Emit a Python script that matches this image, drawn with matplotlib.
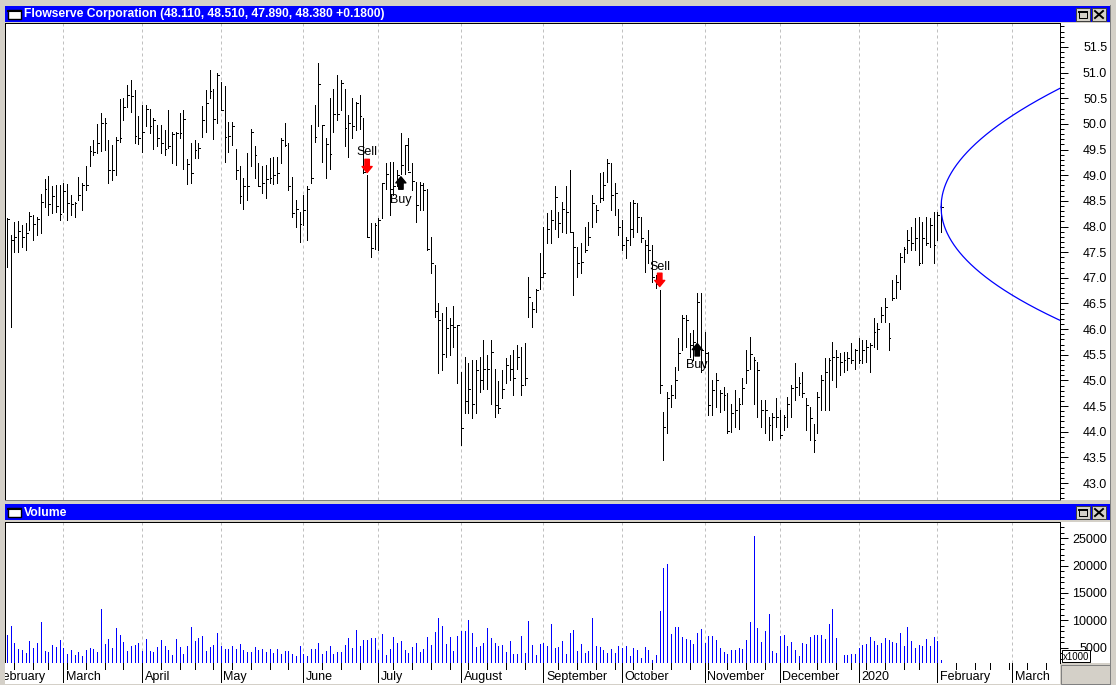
import matplotlib
matplotlib.use('Agg')
import matplotlib.pyplot as plt
import numpy as np
import pandas as pd
from matplotlib.patches import Rectangle
from matplotlib.lines import Line2D
from matplotlib.ticker import FixedLocator, FormatStrFormatter

plt.rcParams['font.family'] = ['Liberation Sans', 'DejaVu Sans']

title = 'Flowserve Corporation (48.110, 48.510, 47.890, 48.380 +0.1800)'

# daily bars, first bar = 7 Feb 2019, last bar = 4 Feb 2020
high = [
    48.16, 47.83, 48.08, 48.10, 48.03, 48.06, 48.29, 48.22, 48.19, 48.63,
    48.93, 48.98, 48.78, 48.81, 48.81, 48.84, 48.83, 48.61, 48.48, 48.97,
    48.84, 49.17, 49.57, 49.69, 50.00, 50.22, 50.11, 49.69, 49.59, 49.74,
    50.48, 50.50, 50.76, 50.86, 50.66, 50.15, 50.37, 50.36, 50.30, 50.11,
    49.98, 49.98, 49.88, 50.27, 49.85, 49.85, 50.22, 50.27, 49.32, 49.62,
    49.69, 49.62, 50.34, 50.66, 51.05, 50.69, 50.99, 50.82, 50.73, 50.04,
    50.04, 49.52, 49.17, 48.94, 49.43, 49.91, 49.57, 49.23, 49.17, 49.20,
    49.33, 49.36, 49.36, 49.72, 50.01, 49.62, 48.97, 48.52, 48.29, 48.61,
    48.78, 49.98, 50.37, 51.18, 49.98, 49.72, 50.50, 50.69, 50.95, 50.86,
    50.69, 50.17, 50.50, 50.43, 50.56, 50.11, 49.00, 48.06, 48.06, 48.16,
    48.84, 49.23, 49.26, 49.26, 49.10, 49.82, 49.59, 49.72, 49.23, 48.87,
    48.87, 48.84, 48.74, 47.80, 47.25, 46.50, 46.31, 46.44, 46.21, 46.46,
    46.08, 45.17, 45.46, 45.33, 45.40, 45.40, 45.46, 45.79, 45.49, 45.79,
    45.23, 44.98, 45.20, 45.43, 45.49, 45.59, 45.69, 45.66, 45.72, 47.02,
    46.53, 46.79, 47.48, 47.99, 48.26, 48.32, 48.78, 48.29, 48.48, 48.78,
    49.10, 47.90, 47.61, 47.67, 48.00, 48.09, 48.61, 48.42, 49.04, 49.07,
    49.31, 49.23, 48.84, 48.35, 48.13, 47.80, 48.48, 48.52, 48.45, 48.19,
    47.74, 47.93, 47.64, 47.05, 46.76, 44.39, 44.78, 44.91, 45.27, 45.82,
    46.27, 46.27, 45.92, 45.98, 46.70, 46.70, 45.95, 45.56, 45.01, 45.14,
    44.81, 44.88, 44.75, 44.55, 44.81, 44.65, 45.04, 45.59, 45.85, 45.46,
    45.36, 44.62, 44.62, 44.29, 44.36, 44.65, 44.42, 44.32, 44.68, 44.91,
    45.33, 45.07, 45.17, 44.65, 44.49, 44.16, 44.78, 45.10, 45.43, 45.43,
    45.75, 45.60, 45.53, 45.56, 45.56, 45.72, 45.62, 45.82, 45.79, 45.79,
    45.72, 46.21, 46.11, 46.44, 46.60, 46.11, 46.96, 47.05, 47.48, 47.61,
    47.93, 47.99, 48.16, 48.19, 48.09, 48.19, 48.16, 48.29, 48.29, 48.51,
]
low = [
    47.22, 46.05, 47.51, 47.50, 47.60, 47.55, 47.93, 47.74, 47.83, 47.87,
    48.39, 48.22, 48.26, 48.29, 48.13, 48.29, 48.13, 48.22, 48.19, 48.52,
    48.32, 48.71, 49.17, 49.39, 49.44, 49.48, 49.49, 48.85, 48.91, 49.00,
    49.65, 50.08, 50.33, 50.24, 49.62, 49.61, 49.46, 49.95, 49.83, 49.52,
    49.56, 49.43, 49.39, 49.54, 49.23, 49.20, 49.72, 49.13, 48.83, 48.84,
    49.33, 49.33, 49.75, 49.85, 50.50, 49.70, 50.01, 50.27, 49.26, 49.46,
    49.59, 48.92, 48.45, 48.35, 48.52, 49.17, 48.94, 48.78, 48.66, 48.55,
    48.84, 48.83, 48.84, 49.23, 49.56, 48.71, 48.19, 47.99, 47.70, 48.03,
    47.74, 48.84, 49.65, 49.95, 49.26, 48.94, 49.13, 49.85, 50.08, 50.27,
    49.56, 49.36, 49.72, 49.88, 49.91, 49.04, 47.80, 47.41, 47.57, 47.54,
    48.16, 48.74, 48.22, 48.61, 48.78, 49.03, 49.03, 49.10, 48.71, 48.09,
    48.32, 48.32, 47.54, 47.09, 46.24, 45.14, 45.20, 45.46, 45.49, 45.66,
    44.94, 43.74, 44.36, 44.36, 44.26, 44.36, 44.78, 44.84, 44.84, 44.55,
    44.29, 44.36, 44.65, 44.94, 45.01, 44.71, 45.23, 44.71, 44.91, 46.24,
    46.05, 46.34, 46.79, 47.02, 47.67, 47.67, 47.96, 47.80, 47.90, 47.87,
    47.90, 46.66, 47.02, 47.09, 47.51, 47.64, 47.99, 48.09, 48.48, 48.52,
    48.87, 48.32, 48.22, 47.84, 47.54, 47.38, 47.64, 47.80, 47.90, 47.70,
    47.12, 47.28, 46.92, 46.80, 44.75, 43.45, 43.97, 44.49, 44.65, 45.20,
    45.59, 45.66, 45.46, 45.40, 45.53, 45.17, 45.27, 44.32, 44.32, 44.49,
    44.39, 44.42, 43.97, 44.00, 44.10, 44.05, 44.55, 44.94, 45.23, 44.55,
    44.29, 44.10, 43.97, 43.84, 43.84, 44.10, 43.87, 44.03, 44.10, 44.29,
    44.62, 44.72, 44.68, 44.03, 43.84, 43.61, 43.97, 44.42, 44.42, 44.42,
    45.01, 44.88, 45.10, 45.17, 45.20, 45.33, 45.23, 45.33, 45.33, 45.36,
    45.17, 45.66, 45.62, 46.14, 46.14, 45.59, 46.57, 46.60, 46.79, 47.31,
    47.48, 47.54, 47.54, 47.25, 47.28, 47.64, 47.61, 47.28, 47.74, 47.89,
]
close = [
    48.14, 47.74, 47.80, 47.92, 47.80, 47.87, 48.20, 48.05, 48.14, 48.48,
    48.74, 48.44, 48.60, 48.40, 48.25, 48.70, 48.45, 48.44, 48.45, 48.61,
    48.80, 48.80, 49.48, 49.46, 49.63, 50.01, 50.01, 49.10, 49.11, 49.69,
    49.72, 50.32, 50.56, 50.54, 49.76, 49.72, 49.85, 50.30, 49.95, 50.08,
    49.72, 49.63, 49.52, 49.57, 49.80, 49.83, 49.82, 50.09, 49.22, 49.04,
    49.50, 49.54, 50.08, 50.41, 50.65, 50.09, 50.95, 50.28, 49.75, 49.76,
    49.95, 49.10, 48.60, 48.78, 48.79, 49.85, 49.39, 48.79, 48.84, 48.93,
    48.94, 49.00, 49.05, 49.69, 49.59, 48.78, 48.26, 48.35, 48.05, 48.32,
    48.74, 48.94, 49.75, 50.77, 49.97, 49.60, 49.41, 50.19, 50.19, 50.79,
    49.93, 50.01, 49.95, 50.40, 50.16, 49.07, 47.80, 47.59, 48.03, 48.13,
    48.84, 49.02, 48.74, 48.78, 49.00, 49.20, 49.59, 49.07, 48.89, 48.42,
    48.81, 48.71, 47.57, 47.28, 46.35, 46.18, 45.51, 46.03, 46.08, 46.05,
    46.08, 44.07, 44.59, 44.84, 44.55, 45.20, 45.01, 45.23, 45.23, 45.56,
    44.52, 44.46, 44.84, 45.30, 45.23, 45.04, 45.46, 44.91, 45.04, 46.63,
    46.40, 46.76, 47.02, 47.09, 47.96, 48.13, 48.58, 48.06, 48.35, 48.29,
    47.90, 47.61, 47.28, 47.31, 47.54, 47.80, 48.45, 48.32, 48.55, 48.81,
    49.23, 48.61, 48.65, 47.99, 47.64, 47.74, 47.96, 48.46, 48.19, 47.77,
    47.64, 47.54, 47.02, 46.88, 44.92, 44.10, 44.65, 44.72, 45.01, 45.53,
    46.21, 46.18, 45.69, 45.75, 46.53, 45.59, 45.53, 44.52, 44.81, 45.01,
    44.75, 44.72, 44.02, 44.36, 44.42, 44.55, 44.85, 45.20, 45.51, 45.40,
    45.20, 44.42, 44.42, 44.13, 44.29, 44.29, 43.93, 44.29, 44.55, 44.85,
    44.88, 44.94, 44.75, 44.52, 44.26, 43.84, 44.68, 45.01, 45.17, 45.40,
    45.46, 45.46, 45.36, 45.40, 45.43, 45.40, 45.59, 45.40, 45.59, 45.66,
    45.69, 45.95, 46.01, 46.27, 46.44, 45.82, 46.60, 46.92, 47.41, 47.57,
    47.74, 47.67, 47.77, 47.28, 47.77, 47.67, 48.03, 47.64, 48.22, 48.38,
]
# volume in thousands of shares (axis shows x1000)
volume = [
    7320, 8970, 5920, 4770, 4580, 4090, 6230, 5010, 5920, 9760,
    4460, 4280, 5500, 5190, 6410, 4890, 3790, 4580, 3670, 4280,
    3550, 4580, 5010, 4770, 4280, 12080, 5680, 6590, 5010, 8600,
    7320, 6110, 4460, 5310, 5500, 5920, 4460, 6590, 4460, 4280,
    5190, 6410, 5310, 4580, 3670, 6590, 5190, 3850, 5310, 8790,
    6290, 6780, 7140, 4460, 5190, 5500, 7690, 5310, 4770, 4770,
    5310, 4770, 5680, 4580, 4280, 4280, 5130, 4580, 4770, 4280,
    4770, 4030, 4770, 3850, 4400, 4400, 3850, 3550, 5310, 3850,
    3490, 4770, 4770, 5920, 3850, 4400, 5310, 3850, 4280, 4280,
    5500, 6780, 5010, 8240, 5310, 6410, 6410, 6780, 6780, 4580,
    7510, 3670, 4770, 6960, 5860, 6230, 4580, 4030, 5130, 5860,
    4220, 4760, 6960, 5490, 7870, 10430, 8970, 5680, 6960, 4400,
    7140, 8050, 8050, 10070, 7690, 5130, 5310, 5860, 8600, 6770,
    5860, 5310, 5490, 4220, 6230, 3850, 3850, 7140, 4030, 9880,
    5490, 3670, 5680, 5860, 5310, 9330, 4950, 5130, 6230, 3850,
    7690, 8240, 4400, 5680, 4030, 4400, 10430, 5310, 5130, 4580,
    4030, 4760, 4030, 5310, 4950, 5310, 3490, 4950, 4580, 3180,
    5130, 4580, 2750, 3670, 11710, 19580, 20300, 7510, 8790, 8790,
    6960, 6590, 6410, 5680, 7690, 8420, 5860, 7140, 7140, 6410,
    4950, 4220, 3850, 4580, 4580, 4950, 4770, 6410, 9700, 25420,
    8600, 6040, 8050, 11160, 4400, 4030, 7140, 7320, 5310, 6040,
    4580, 3490, 5860, 5680, 6960, 7320, 7320, 7320, 6590, 9340,
    12080, 6780, 1500, 3670, 3670, 3850, 3850, 4950, 5500, 5680,
    6960, 6230, 5500, 5860, 6780, 6410, 6040, 5860, 7690, 5310,
    8790, 6230, 4950, 5500, 5310, 6590, 5310, 6960, 6230, 2750,
]

month_names = ['February', 'March', 'April', 'May', 'June', 'July', 'August',
               'September', 'October', 'November', 'December', '2020',
               'February', 'March']
month_start = [-4, 15, 36, 57, 79, 99, 121, 143, 164, 186, 206, 227, 248, 268]
holidays = ['2019-02-18', '2019-04-19', '2019-05-27', '2019-07-04', '2019-09-02',
            '2019-11-28', '2019-12-25', '2020-01-01', '2020-01-20', '2020-02-17']

sell_bars = [96, 174]
sell_tips = [49.05, 46.83]
sell_label = [49.39, 47.15]
buy_bars = [105, 184]
buy_tips = [48.97, 45.72]
buy_label = [48.46, 45.24]

cone_sigma = 0.0083

W, H = 1116, 685
fig = plt.figure(figsize=(W / 100, H / 100), dpi=100, facecolor='#d4d0c8')


def box(x0, y0, x1, y1, **kw):
    r = Rectangle((x0 / W, 1 - y1 / H), (x1 - x0) / W, (y1 - y0) / H,
                  transform=fig.transFigure, **kw)
    fig.add_artist(r)
    return r


def line(x0, y0, x1, y1, **kw):
    fig.add_artist(Line2D([x0 / W, x1 / W], [1 - y0 / H, 1 - y1 / H],
                          transform=fig.transFigure, **kw))


px = 0.72
x_lo, x_hi = -0.53, 280.7
idx = np.arange(len(close))

ax1 = fig.add_axes([5 / W, 1 - 500 / H, 1055 / W, 477 / H])
ax2 = fig.add_axes([5 / W, 1 - 663 / H, 1055 / W, 141 / H])
ax3 = fig.add_axes([5 / W, 1 - 684 / H, 1055 / W, 21 / H])

# white strips behind the right hand scales
box(1060, 23, 1110, 500, fc='white', ec='none', zorder=-1)
box(1060, 522, 1110, 663, fc='white', ec='none', zorder=-1)

# price panel
ax1.vlines(idx, low, high, color='black', lw=px, antialiased=False, zorder=3)
ax1.hlines(close, idx, idx + 0.5, color='black', lw=px, antialiased=False, zorder=3)
for m in month_start:
    ax1.axvline(m, color='#c0c0c0', lw=px, ls=(0, (3, 3)), zorder=1)

t = np.linspace(0, 33, 300)
ax1.plot(idx[-1] + t, close[-1] * np.exp(cone_sigma * np.sqrt(t)), color='#0000ff', lw=0.9, zorder=4)
ax1.plot(idx[-1] + t, close[-1] * np.exp(-cone_sigma * np.sqrt(t)), color='#0000ff', lw=0.9, zorder=4)

for i, tip, ty in zip(sell_bars, sell_tips, sell_label):
    ax1.annotate('', xy=(i, tip), xytext=(0, 9.6), textcoords='offset points',
                 arrowprops=dict(arrowstyle='simple,head_length=0.55,head_width=0.9,tail_width=0.4',
                                 mutation_scale=8, fc='#ff0000', ec='#ff0000',
                                 shrinkA=0, shrinkB=0), zorder=5)
    ax1.text(i, ty, 'Sell', ha='center', va='baseline', fontsize=9, zorder=5)
for i, tip, ty in zip(buy_bars, buy_tips, buy_label):
    ax1.annotate('', xy=(i, tip), xytext=(0, -9), textcoords='offset points',
                 arrowprops=dict(arrowstyle='simple,head_length=0.55,head_width=0.9,tail_width=0.4',
                                 mutation_scale=8, fc='black', ec='black',
                                 shrinkA=0, shrinkB=0), zorder=5)
    ax1.text(i, ty, 'Buy', ha='center', va='baseline', fontsize=9, zorder=5)

ax1.set_xlim(x_lo, x_hi)
ax1.set_ylim(42.669, 51.967)
ax1.set_xticks([])
ax1.yaxis.tick_right()
ax1.yaxis.set_major_locator(FixedLocator(np.arange(43.0, 51.51, 0.5)))
ax1.yaxis.set_minor_locator(FixedLocator(np.arange(42.7, 51.95, 0.1)))
ax1.yaxis.set_major_formatter(FormatStrFormatter('%.1f'))
ax1.tick_params(axis='y', which='major', length=6, width=px, pad=28, labelsize=9)
ax1.tick_params(axis='y', which='minor', length=3, width=px)
for s in ax1.spines.values():
    s.set_linewidth(px)
ax1.spines['bottom'].set_color('#808080')

# volume panel
vbase = 2203
ax2.vlines(idx, vbase, volume, color='#0000ff', lw=px, antialiased=False, zorder=3)
for m in month_start:
    ax2.axvline(m, color='#c0c0c0', lw=px, ls=(0, (3, 3)), zorder=1)
ax2.set_xlim(x_lo, x_hi)
ax2.set_ylim(vbase, 27978)
ax2.set_xticks([])
ax2.yaxis.tick_right()
ax2.yaxis.set_major_locator(FixedLocator(np.arange(5000, 25001, 5000)))
ax2.yaxis.set_minor_locator(FixedLocator(np.arange(3000, 27001, 1000)))
ax2.yaxis.set_major_formatter(FormatStrFormatter('%d'))
ax2.tick_params(axis='y', which='major', length=6, width=px, pad=28, labelsize=9)
ax2.tick_params(axis='y', which='minor', length=3, width=px)
for s in ax2.spines.values():
    s.set_linewidth(px)

for a in (ax1, ax2):
    for lbl in a.get_yticklabels():
        lbl.set_horizontalalignment('right')

# date strip
days = pd.bdate_range('2019-02-07', '2020-03-31')
days = days[~days.isin(pd.to_datetime(holidays))]
weeks = [i for i in range(1, len(days)) if days[i].weekday() < days[i - 1].weekday()]
ax3.set_xlim(x_lo, x_hi)
ax3.set_ylim(0, 1)
ax3.axis('off')
ax3.add_patch(Rectangle((0, 0), 1, 1, transform=ax3.transAxes, fc='white', ec='none'))
ax3.vlines(weeks, 0.72, 1, color='black', lw=px, antialiased=False)
ax3.vlines(month_start, 0.08, 1, color='black', lw=px, antialiased=False)
for m, name in zip(month_start, month_names):
    ax3.text(m + 0.7, 0.2, name, fontsize=9, ha='left', va='baseline', clip_on=True)

# window chrome
box(1061, 665, 1110, 684, fc='#d4d0c8', ec='#808080', lw=px)
box(1062, 650, 1090, 662, fc='white', ec='black', lw=px, zorder=5)
fig.text(1076 / W, 1 - 656.5 / H, 'x1000', fontsize=7, ha='center', va='center', zorder=6)

for y0, txt in ((6, title), (504, 'Volume')):
    box(5, y0, 1110, y0 + 16, fc='#0000ff', ec='none', zorder=3)
    box(8, y0 + 4, 21, y0 + 13, fc='white', ec='black', lw=1, zorder=4)
    line(8, y0 + 4.5, 21, y0 + 4.5, color='black', lw=1.5, zorder=4)
    fig.text(24 / W, 1 - (y0 + 8.5) / H, txt, color='white', fontweight='bold',
             fontsize=8.75, va='center', ha='left', zorder=5)
    for bx in (1076, 1092):
        box(bx, y0 + 2, bx + 14, y0 + 15, fc='#d4d0c8', ec='#404040', lw=px, zorder=4)
    box(1079, y0 + 5, 1087, y0 + 12, fc='none', ec='black', lw=px, zorder=5)
    line(1079, y0 + 5.5, 1087, y0 + 5.5, color='black', lw=1.4, zorder=5)
    line(1095, y0 + 5, 1103, y0 + 12, color='black', lw=1.4, zorder=5)
    line(1095, y0 + 12, 1103, y0 + 5, color='black', lw=1.4, zorder=5)

line(1110, 5, 1110, 684, color='#808080', lw=px)

fig.savefig('out.png', dpi=100, facecolor=fig.get_facecolor())
